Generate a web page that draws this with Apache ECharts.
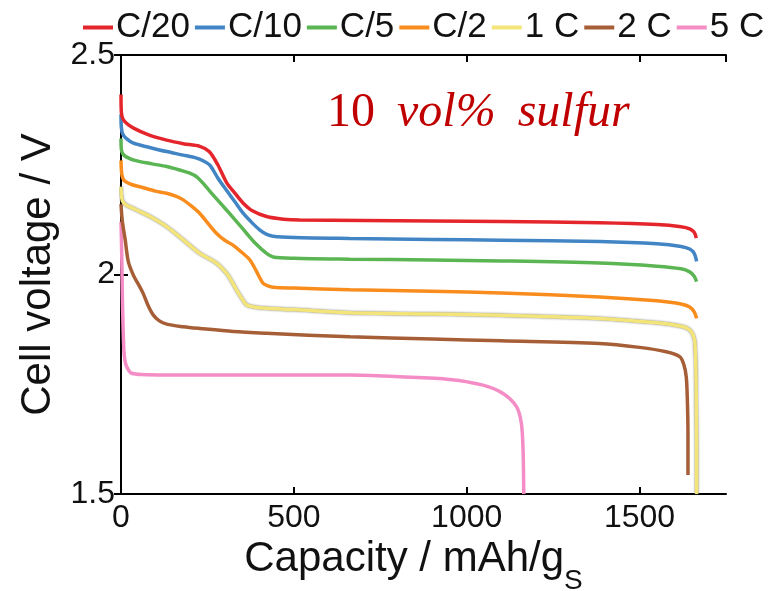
<!DOCTYPE html>
<html>
<head>
<meta charset="utf-8">
<script src="https://cdn.jsdelivr.net/npm/echarts@6/dist/echarts.min.js"></script>
<style>
  html, body { margin: 0; padding: 0; background: #fff; }
  #chart { width: 777px; height: 591px; }
</style>
</head>
<body>
<div id="chart"></div>
<script>
// discharge curves, [capacity mAh/g, voltage V]
var names = ['C/20', 'C/10', 'C/5', 'C/2', '1 C', '2 C', '5 C'];
var colors = ['#e4262c', '#4285c5', '#5ab552', '#f88d1e', '#f3e57a', '#a65e36', '#f48cc6'];

var c20 = [[0,2.41],[1,2.37],[5,2.355],[15,2.345],[35,2.334],[80,2.318],[132,2.306],[180,2.298],[228,2.292],[255,2.28],[280,2.25],[305,2.21],[330,2.185],[353,2.163],[380,2.145],[421,2.132],[470,2.126],[517,2.124],[700,2.123],[900,2.122],[1100,2.121],[1384,2.118],[1550,2.114],[1620,2.109],[1645,2.104],[1658,2.096],[1664,2.083]];
var c10 = [[0,2.365],[1,2.335],[5,2.32],[15,2.31],[36,2.299],[80,2.29],[132,2.28],[180,2.272],[219,2.265],[240,2.258],[257,2.249],[280,2.22],[305,2.192],[330,2.165],[354,2.139],[380,2.117],[402,2.101],[420,2.092],[440,2.087],[500,2.084],[662,2.082],[900,2.08],[1100,2.078],[1384,2.075],[1550,2.07],[1620,2.064],[1645,2.058],[1658,2.048],[1665,2.03]];
var c5 = [[0,2.31],[1,2.285],[5,2.275],[15,2.268],[40,2.26],[90,2.252],[132,2.246],[170,2.238],[199,2.231],[220,2.222],[237,2.208],[270,2.178],[305,2.147],[335,2.12],[363,2.094],[390,2.07],[421,2.048],[440,2.04],[500,2.037],[662,2.035],[900,2.033],[1100,2.031],[1384,2.026],[1550,2.019],[1620,2.013],[1645,2.006],[1658,1.996],[1665,1.984]];
var c2 = [[0,2.26],[2,2.23],[6,2.218],[12,2.212],[30,2.205],[55,2.2],[100,2.19],[132,2.185],[160,2.178],[180,2.17],[205,2.155],[228,2.139],[250,2.118],[276,2.094],[300,2.078],[324,2.067],[350,2.05],[373,2.033],[390,2.01],[411,1.98],[425,1.974],[440,1.971],[500,1.969],[662,1.965],[900,1.962],[1100,1.958],[1384,1.949],[1550,1.94],[1620,1.933],[1645,1.926],[1658,1.915],[1665,1.9]];
var c1 = [[0,2.2],[2,2.175],[6,2.165],[16,2.158],[45,2.147],[84,2.132],[132,2.109],[180,2.079],[228,2.048],[276,2.026],[305,2.003],[320,1.985],[334,1.965],[350,1.945],[363,1.931],[385,1.926],[421,1.923],[500,1.92],[662,1.913],[900,1.91],[1100,1.907],[1384,1.9],[1550,1.89],[1620,1.882],[1645,1.874],[1655,1.862],[1660,1.845],[1663,1.78],[1664,1.714],[1665,1.6],[1665,1.5]];
var c2x = [[0,2.16],[4,2.12],[12,2.08],[21,2.03],[36,1.998],[50,1.978],[64,1.957],[78,1.93],[93,1.908],[110,1.895],[132,1.887],[180,1.881],[228,1.877],[325,1.87],[421,1.866],[662,1.858],[900,1.853],[1100,1.849],[1384,1.843],[1500,1.834],[1577,1.824],[1616,1.813],[1628,1.795],[1635,1.767],[1638,1.72],[1640,1.638],[1640,1.543]];
var c5x = [[0,2.12],[2,2.05],[4,1.95],[6,1.88],[9,1.82],[14,1.795],[22,1.782],[31,1.775],[60,1.772],[132,1.771],[400,1.771],[662,1.771],[806,1.767],[951,1.761],[1047,1.748],[1105,1.729],[1144,1.699],[1158,1.661],[1163,1.6],[1165,1.5]];
var curves = [c20, c10, c5, c2, c1, c2x, c5x];

var font = '"Liberation Sans", Arial, sans-serif';
var serif = '"Liberation Serif", "Times New Roman", serif';

var chart = echarts.init(document.getElementById('chart'));

var series = curves.map(function (d, i) {
    var s = {
        name: names[i],
        type: 'line',
        data: d,
        showSymbol: false,
        smooth: 0.3,
        lineStyle: { color: colors[i], width: 3.5 },
        itemStyle: { color: colors[i] },
        z: 10 - i
    };
    if (i == 4) {
        s.lineStyle.shadowColor = 'rgba(90,90,90,0.8)';
        s.lineStyle.shadowBlur = 2;
    }
    return s;
});

var option = {
    backgroundColor: '#fff',
    animation: false,
    color: colors,
    textStyle: { fontFamily: font },
    title: {
        text: '{n|10}{v|vol%}{s|sulfur}',
        left: 322,
        top: 84,
        textStyle: {
            rich: {
                n: { fontFamily: serif, fontWeight: 'normal', fontSize: 48, color: '#c00000' },
                v: { fontFamily: serif, fontWeight: 'normal', fontStyle: 'italic', fontSize: 48, color: '#c00000', padding: [0, 0, 0, 22] },
                s: { fontFamily: serif, fontWeight: 'normal', fontStyle: 'italic', fontSize: 48, color: '#c00000', padding: [0, 0, 0, 22] }
            }
        }
    },
    legend: {
        data: names,
        top: 5,
        left: 78,
        icon: 'rect',
        itemWidth: 30,
        itemHeight: 4,
        itemGap: 5,
        textStyle: { fontFamily: font, fontSize: 35, color: '#111', padding: [0, 0, 0, -2] }
    },
    grid: { left: 121, right: 51, top: 55, bottom: 97, outerBoundsMode: 'none', containLabel: false },
    xAxis: [{
        type: 'value',
        min: 0,
        max: 1750,
        interval: 500,
        name: '{a|Capacity / mAh/g}{s|S}',
        nameLocation: 'middle',
        nameGap: 44,
        nameTextStyle: {
            padding: [0, 20, 0, 0],
            rich: {
                a: { fontFamily: font, fontSize: 42, color: '#111', lineHeight: 44, verticalAlign: 'top' },
                s: { fontFamily: font, fontSize: 28, color: '#111', lineHeight: 56, verticalAlign: 'bottom' }
            }
        },
        axisLine: { lineStyle: { color: '#000', width: 2 } },
        axisTick: { inside: true, length: 7, lineStyle: { color: '#000', width: 2 } },
        axisLabel: {
            fontFamily: font, fontSize: 32, color: '#111', margin: 8, showMaxLabel: false,
            formatter: function (v) { return String(v); }
        },
        splitLine: { show: false }
    }, {
        type: 'value',
        position: 'top',
        min: 0,
        max: 1750,
        interval: 500,
        axisLine: { lineStyle: { color: '#000', width: 2 } },
        axisTick: { inside: true, length: 7, lineStyle: { color: '#000', width: 2 } },
        axisLabel: { show: false },
        splitLine: { show: false }
    }],
    yAxis: [{
        type: 'value',
        min: 1.5,
        max: 2.5,
        interval: 0.5,
        name: 'Cell voltage / V',
        nameLocation: 'middle',
        nameGap: 62,
        nameTextStyle: { fontFamily: font, fontSize: 42, color: '#111' },
        axisLine: { lineStyle: { color: '#000', width: 2 } },
        axisTick: { inside: true, length: 7, lineStyle: { color: '#000', width: 2 } },
        axisLabel: { fontFamily: font, fontSize: 32, color: '#111', margin: 6 },
        splitLine: { show: false }
    }, {
        type: 'value',
        position: 'right',
        min: 1.5,
        max: 2.5,
        interval: 0.5,
        axisLine: { lineStyle: { color: '#000', width: 2 } },
        axisTick: { inside: true, length: 7, lineStyle: { color: '#000', width: 2 } },
        axisLabel: { show: false },
        splitLine: { show: false }
    }],
    series: series
};

chart.setOption(option);
</script>
</body>
</html>
